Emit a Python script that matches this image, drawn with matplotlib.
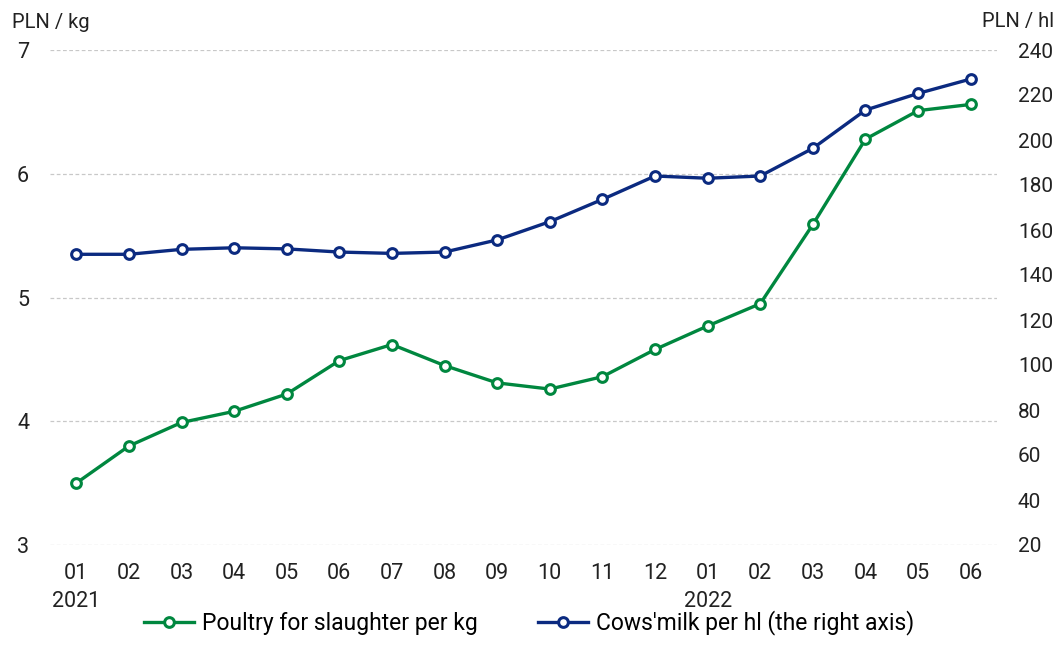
import matplotlib
matplotlib.use('Agg')
import matplotlib.pyplot as plt

plt.rcParams['font.family'] = ['Roboto', 'DejaVu Sans']

months = ['01\n2021', '02', '03', '04', '05', '06', '07', '08', '09', '10', '11', '12',
          '01\n2022', '02', '03', '04', '05', '06']
poultry = [3.50, 3.80, 3.99, 4.08, 4.22, 4.49, 4.62, 4.45, 4.31, 4.26, 4.36, 4.58,
           4.77, 4.95, 5.59, 6.28, 6.51, 6.56]
milk = [149.2, 149.2, 151.4, 152.1, 151.6, 150.2, 149.6, 150.2, 155.6, 163.7, 173.6, 184.0,
        183.0, 184.0, 196.3, 213.3, 220.7, 227.1]

left_ticks = [3, 4, 5, 6, 7]
right_ticks = list(range(20, 241, 20))

GREEN = '#00873f'
BLUE = '#0b2a80'
TEXT = '#222222'

fig = plt.figure(figsize=(10.58, 6.62), dpi=100)
ax = fig.add_axes([50 / 1058, 1 - 545 / 662, 947 / 1058, 495 / 662])
ax2 = ax.twinx()

xs = list(range(len(months)))
marker_kw = dict(marker='o', markersize=7, markerfacecolor='white', markeredgewidth=2.2)
l1, = ax.plot(xs, poultry, color=GREEN, linewidth=2.4, label='Poultry for slaughter per kg',
              zorder=3, **marker_kw)
l2, = ax2.plot(xs, milk, color=BLUE, linewidth=2.4, label="Cows'milk per hl (the right axis)",
               zorder=3, **marker_kw)

ax.set_xlim(-0.5, len(months) - 0.5)
ax.set_ylim(3, 7)
ax2.set_ylim(20, 240)
ax.set_yticks(left_ticks)
ax2.set_yticks(right_ticks)
ax.set_xticks(xs)
ax.set_xticklabels(months, linespacing=1.45)

ax.grid(axis='y', linestyle=(0, (3, 2)), color='#c8c8c8', linewidth=0.9)
ax.set_axisbelow(True)
for a in (ax, ax2):
    for s in a.spines.values():
        s.set_visible(False)

ax.tick_params(axis='y', length=0, labelsize=15.5, pad=15, colors=TEXT)
ax.tick_params(axis='x', length=0, labelsize=15.5, pad=13, colors=TEXT)
ax2.tick_params(axis='y', length=0, labelsize=15, pad=15, colors=TEXT)
for t in ax2.get_yticklabels():
    t.set_horizontalalignment('left')

fig.text(12 / 1058, 1 - 22 / 662, 'PLN / kg', fontsize=14.5, color=TEXT, va='center')
fig.text(982 / 1058, 1 - 22 / 662, 'PLN / hl', fontsize=14.5, color=TEXT, va='center')

fig.legend(handles=[l1, l2], loc='center', bbox_to_anchor=(0.5, 1 - 623 / 662), ncol=2,
           frameon=False, fontsize=16.5, handlelength=2.2, columnspacing=2.6, handletextpad=0.35)

fig.savefig('out.png', dpi=100)
